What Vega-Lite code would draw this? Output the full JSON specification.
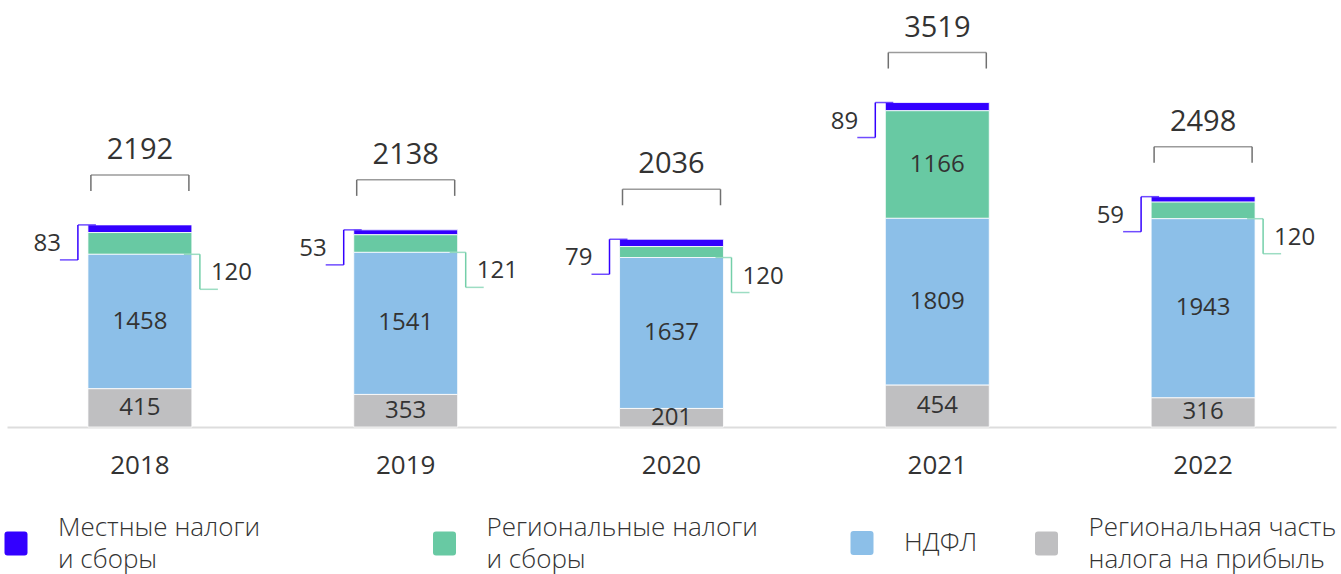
{
  "$schema": "https://vega.github.io/schema/vega-lite/v6.json",
  "width": 1329,
  "height": 427,
  "autosize": {"type": "none"},
  "padding": {"left": 7, "top": 0, "right": 5, "bottom": 147},
  "background": "white",
  "config": {
    "view": {"stroke": null},
    "font": "Open Sans",
    "style": {"guide-label": {"lineHeight": 32}},
    "legend": {
      "orient": "none",
      "direction": "horizontal",
      "padding": 0,
      "symbolSize": 625,
      "symbolStrokeWidth": 0,
      "labelFont": "Open Sans",
      "labelFontSize": 26,
      "labelFontWeight": 300,
      "labelColor": "#333333",
      "labelOffset": 29,
      "labelLimit": 500
    }
  },
  "data": {
    "values": [
      {"year": "2018", "cat": "Региональная часть налога на прибыль", "rank": 1, "value": 415, "label": 415},
      {"year": "2018", "cat": "НДФЛ", "rank": 2, "value": 1458, "label": 1458},
      {"year": "2018", "cat": "Региональные налоги и сборы", "rank": 3, "value": 236, "label": 120},
      {"year": "2018", "cat": "Местные налоги и сборы", "rank": 4, "value": 83, "label": 83},
      {"year": "2019", "cat": "Региональная часть налога на прибыль", "rank": 1, "value": 353, "label": 353},
      {"year": "2019", "cat": "НДФЛ", "rank": 2, "value": 1541, "label": 1541},
      {"year": "2019", "cat": "Региональные налоги и сборы", "rank": 3, "value": 191, "label": 121},
      {"year": "2019", "cat": "Местные налоги и сборы", "rank": 4, "value": 53, "label": 53},
      {"year": "2020", "cat": "Региональная часть налога на прибыль", "rank": 1, "value": 201, "label": 201},
      {"year": "2020", "cat": "НДФЛ", "rank": 2, "value": 1637, "label": 1637},
      {"year": "2020", "cat": "Региональные налоги и сборы", "rank": 3, "value": 119, "label": 120},
      {"year": "2020", "cat": "Местные налоги и сборы", "rank": 4, "value": 79, "label": 79},
      {"year": "2021", "cat": "Региональная часть налога на прибыль", "rank": 1, "value": 454, "label": 454},
      {"year": "2021", "cat": "НДФЛ", "rank": 2, "value": 1809, "label": 1809},
      {"year": "2021", "cat": "Региональные налоги и сборы", "rank": 3, "value": 1167, "label": 1166},
      {"year": "2021", "cat": "Местные налоги и сборы", "rank": 4, "value": 89, "label": 89},
      {"year": "2022", "cat": "Региональная часть налога на прибыль", "rank": 1, "value": 316, "label": 316},
      {"year": "2022", "cat": "НДФЛ", "rank": 2, "value": 1943, "label": 1943},
      {"year": "2022", "cat": "Региональные налоги и сборы", "rank": 3, "value": 180, "label": 120},
      {"year": "2022", "cat": "Местные налоги и сборы", "rank": 4, "value": 59, "label": 59}
    ]
  },
  "transform": [
    {"stack": "value", "groupby": ["year"], "sort": [{"field": "rank", "order": "ascending"}], "as": ["y0", "y1"]}
  ],
  "encoding": {
    "x": {
      "field": "year",
      "type": "nominal",
      "scale": {"paddingInner": 0.609, "paddingOuter": 0.3045},
      "axis": {
        "title": null,
        "labelAngle": 0,
        "ticks": false,
        "domainColor": "#dddddd",
        "domainWidth": 2,
        "labelFontSize": 26,
        "labelFont": "Open Sans",
        "labelColor": "#333333",
        "labelPadding": 38,
        "labelBaseline": "middle"
      }
    }
  },
  "layer": [
    {
      "transform": [{"filter": "datum.rank == 4"}],
      "mark": {"type": "bar", "stroke": "white", "strokeWidth": 0.8},
      "encoding": {
        "y": {"field": "y0", "type": "quantitative", "stack": null, "scale": {"domain": [0, 4631], "nice": false}, "axis": null},
        "y2": {"field": "y1"},
        "fill": {
          "field": "cat",
          "type": "nominal",
          "scale": {"range": ["#3300FF"]},
          "legend": {
            "title": null,
            "legendX": -4,
            "legendY": 515,
            "symbolType": "M-0.68,0.28H0.68Q0.92,0.28,0.92,0.52V1.96Q0.92,2.2,0.68,2.2H-0.68Q-0.92,2.2,-0.92,1.96V0.52Q-0.92,0.28,-0.68,0.28Z",
            "labelExpr": "split(replace(datum.label, ' и сборы', '|и сборы'), '|')"
          }
        }
      }
    },
    {
      "transform": [{"filter": "datum.rank == 3"}],
      "mark": {"type": "bar", "stroke": "white", "strokeWidth": 0.8},
      "encoding": {
        "y": {"field": "y0", "type": "quantitative", "stack": null, "scale": {"domain": [0, 4631], "nice": false}, "axis": null},
        "y2": {"field": "y1"},
        "fill": {
          "field": "cat",
          "type": "nominal",
          "scale": {"range": ["#68C9A3"]},
          "legend": {
            "title": null,
            "legendX": 424.5,
            "legendY": 515,
            "symbolType": "M-0.68,0.28H0.68Q0.92,0.28,0.92,0.52V1.96Q0.92,2.2,0.68,2.2H-0.68Q-0.92,2.2,-0.92,1.96V0.52Q-0.92,0.28,-0.68,0.28Z",
            "labelExpr": "split(replace(datum.label, ' и сборы', '|и сборы'), '|')"
          }
        }
      }
    },
    {
      "transform": [{"filter": "datum.rank == 2"}],
      "mark": {"type": "bar", "stroke": "white", "strokeWidth": 0.8},
      "encoding": {
        "y": {"field": "y0", "type": "quantitative", "stack": null, "scale": {"domain": [0, 4631], "nice": false}, "axis": null},
        "y2": {"field": "y1"},
        "fill": {
          "field": "cat",
          "type": "nominal",
          "scale": {"range": ["#8CBFE8"]},
          "legend": {
            "title": null,
            "legendX": 842,
            "legendY": 530,
            "symbolType": "M-0.68,-0.96H0.68Q0.92,-0.96,0.92,-0.72V0.72Q0.92,0.96,0.68,0.96H-0.68Q-0.92,0.96,-0.92,0.72V-0.72Q-0.92,-0.96,-0.68,-0.96Z"
          }
        }
      }
    },
    {
      "transform": [{"filter": "datum.rank == 1"}],
      "mark": {"type": "bar", "stroke": "white", "strokeWidth": 0.8},
      "encoding": {
        "y": {"field": "y0", "type": "quantitative", "stack": null, "scale": {"domain": [0, 4631], "nice": false}, "axis": null},
        "y2": {"field": "y1"},
        "fill": {
          "field": "cat",
          "type": "nominal",
          "scale": {"range": ["#BFBFC1"]},
          "legend": {
            "title": null,
            "legendX": 1026.5,
            "legendY": 515,
            "symbolType": "M-0.68,0.28H0.68Q0.92,0.28,0.92,0.52V1.96Q0.92,2.2,0.68,2.2H-0.68Q-0.92,2.2,-0.92,1.96V0.52Q-0.92,0.28,-0.68,0.28Z",
            "labelExpr": "split(replace(datum.label, 'часть ', 'часть|'), '|')"
          }
        }
      }
    },
    {
      "mark": {"type": "text", "fontSize": 24, "font": "Open Sans", "color": "#333333", "baseline": "middle"},
      "encoding": {
        "y": {"field": "value", "type": "quantitative", "stack": "zero", "bandPosition": 0.5, "scale": {"domain": [0, 4631], "nice": false}, "axis": null},
        "detail": {"field": "cat"},
        "order": {"field": "rank", "type": "quantitative"},
        "text": {"condition": {"test": "datum.rank <= 2 || datum.value > 500", "field": "label", "type": "quantitative", "format": "d"}, "value": ""}
      }
    },
    {
      "transform": [{"filter": "datum.rank == 4"}],
      "encoding": {
        "y": {"field": "y1", "type": "quantitative", "scale": {"domain": [0, 4631], "nice": false}, "axis": null}
      },
      "layer": [
        {"mark": {"type": "rule", "color": "#3300FF", "strokeWidth": 1.5, "xOffset": -62, "y2Offset": 35}, "encoding": {"y2": {"field": "y1"}}},
        {"mark": {"type": "tick", "color": "#3300FF", "thickness": 1.5, "size": 18, "xOffset": -53}, "encoding": {}},
        {"mark": {"type": "tick", "color": "#3300FF", "thickness": 1.5, "size": 18, "xOffset": -71, "yOffset": 35}, "encoding": {}},
        {"mark": {"type": "text", "fontSize": 24, "font": "Open Sans", "color": "#333333", "align": "right", "baseline": "middle", "xOffset": -79, "yOffset": 19}, "encoding": {"text": {"field": "label", "type": "quantitative", "format": "d"}}}
      ]
    },
    {
      "transform": [{"filter": "datum.rank == 3 && datum.value < 500"}],
      "encoding": {
        "y": {"field": "y0", "type": "quantitative", "scale": {"domain": [0, 4631], "nice": false}, "axis": null}
      },
      "layer": [
        {"mark": {"type": "rule", "color": "#74CFA9", "strokeWidth": 1.5, "xOffset": 60, "y2Offset": 35}, "encoding": {"y2": {"field": "y0"}}},
        {"mark": {"type": "tick", "color": "#74CFA9", "thickness": 1.5, "size": 16, "xOffset": 52}, "encoding": {}},
        {"mark": {"type": "tick", "color": "#74CFA9", "thickness": 1.5, "size": 18, "xOffset": 69, "yOffset": 35}, "encoding": {}},
        {"mark": {"type": "text", "fontSize": 24, "font": "Open Sans", "color": "#333333", "align": "left", "baseline": "middle", "xOffset": 71, "yOffset": 19}, "encoding": {"text": {"field": "label", "type": "quantitative", "format": "d"}}}
      ]
    },
    {
      "transform": [{"aggregate": [{"op": "sum", "field": "value", "as": "total"}], "groupby": ["year"]}],
      "encoding": {
        "y": {"field": "total", "type": "quantitative", "scale": {"domain": [0, 4631], "nice": false}, "axis": null}
      },
      "layer": [
        {"mark": {"type": "tick", "color": "#707070", "thickness": 1.5, "size": 98, "yOffset": -50}, "encoding": {}},
        {"mark": {"type": "rule", "color": "#707070", "strokeWidth": 1.5, "xOffset": -49, "yOffset": -50, "y2Offset": -34}, "encoding": {"y2": {"field": "total"}}},
        {"mark": {"type": "rule", "color": "#707070", "strokeWidth": 1.5, "xOffset": 49, "yOffset": -50, "y2Offset": -34}, "encoding": {"y2": {"field": "total"}}},
        {"mark": {"type": "text", "fontSize": 29, "font": "Open Sans", "color": "#333333", "baseline": "middle", "yOffset": -75}, "encoding": {"text": {"field": "total", "type": "quantitative", "format": "d"}}}
      ]
    }
  ],
  "resolve": {"scale": {"fill": "independent"}, "legend": {"fill": "independent"}}
}
